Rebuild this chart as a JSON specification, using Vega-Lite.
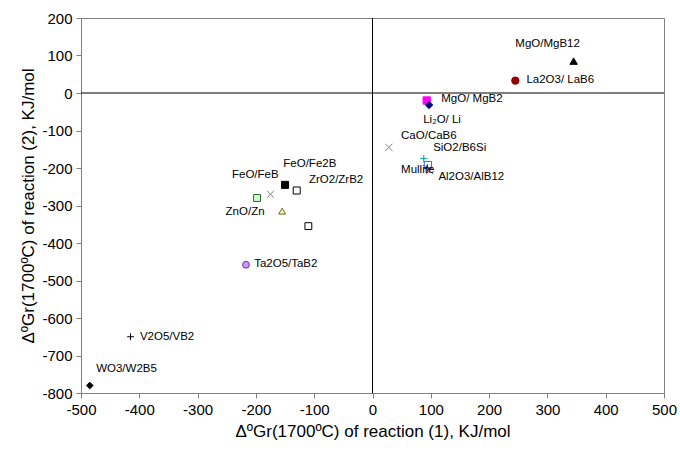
{
  "$schema": "https://vega.github.io/schema/vega-lite/v6.json",
  "width": 583,
  "height": 375,
  "autosize": "none",
  "padding": {"left": 81, "top": 18, "right": 16, "bottom": 59},
  "background": "white",
  "config": {
    "font": "Liberation Sans",
    "view": {"stroke": "#808080", "strokeWidth": 1},
    "axis": {"grid": false, "domainColor": "#808080", "tickColor": "#808080", "tickSize": 5, "labelFont": "Liberation Sans", "labelFontSize": 15, "labelColor": "#000", "titleFont": "Liberation Sans", "titleFontSize": 17, "titleFontWeight": "normal", "titleColor": "#000", "labelPadding": 4, "labelOverlap": false, "labelBound": false, "labelFlush": false, "labelExpr": "'' + datum.value"}
  },
  "datasets": {
    "points": [
      {"series": "MgO/MgB12", "dg1": 345, "dg2": 85},
      {"series": "La2O3/LaB6", "dg1": 245, "dg2": 33},
      {"series": "MgO/MgB2", "dg1": 93, "dg2": -20},
      {"series": "Li2O/Li", "dg1": 97, "dg2": -32},
      {"series": "CaO/CaB6", "dg1": 28, "dg2": -145},
      {"series": "SiO2/B6Si", "dg1": 88, "dg2": -175},
      {"series": "Al2O3/AlB12", "dg1": 95, "dg2": -192},
      {"series": "Mullite", "dg1": 94, "dg2": -200},
      {"series": "unlabelled A", "dg1": 98, "dg2": -207},
      {"series": "FeO/FeB", "dg1": -150, "dg2": -245},
      {"series": "ZrO2/ZrB2", "dg1": -130, "dg2": -260},
      {"series": "unlabelled B", "dg1": -175, "dg2": -270},
      {"series": "ZnO/Zn", "dg1": -198, "dg2": -280},
      {"series": "unlabelled C", "dg1": -155, "dg2": -315},
      {"series": "unlabelled D", "dg1": -110, "dg2": -355},
      {"series": "Ta2O5/TaB2", "dg1": -217, "dg2": -458},
      {"series": "V2O5/VB2", "dg1": -415, "dg2": -650},
      {"series": "WO3/W2B5", "dg1": -485, "dg2": -780}
    ],
    "labels": [
      {"label": "MgO/MgB12", "lx": 245, "ly": 130},
      {"label": "La2O3/ LaB6", "lx": 264, "ly": 34},
      {"label": "MgO/ MgB2", "lx": 118, "ly": -16},
      {"label": "Li₂O/ Li", "lx": 87, "ly": -72},
      {"label": "CaO/CaB6", "lx": 49, "ly": -114},
      {"label": "SiO2/B6Si", "lx": 104, "ly": -146},
      {"label": "Mullite", "lx": 49, "ly": -204},
      {"label": "Al2O3/AlB12", "lx": 113, "ly": -223},
      {"label": "FeO/FeB", "lx": -241, "ly": -218},
      {"label": "FeO/Fe2B", "lx": -153, "ly": -188},
      {"label": "ZrO2/ZrB2", "lx": -109, "ly": -231},
      {"label": "ZnO/Zn", "lx": -252, "ly": -316},
      {"label": "Ta2O5/TaB2", "lx": -203, "ly": -456},
      {"label": "V2O5/VB2", "lx": -399, "ly": -650},
      {"label": "WO3/W2B5", "lx": -474, "ly": -737}
    ],
    "zero": [{"v": 0}]
  },
  "layer": [
    {
      "data": {"name": "points"},
      "mark": {"type": "point", "strokeWidth": 1, "opacity": 1},
      "encoding": {
        "x": {"field": "dg1", "type": "quantitative", "scale": {"domain": [-500, 500], "nice": false, "zero": false}, "axis": {"values": [-500,-400,-300,-200,-100,0,100,200,300,400,500], "title": "ΔºGr(1700ºC) of reaction (1), KJ/mol", "titlePadding": 6}},
        "y": {"field": "dg2", "type": "quantitative", "scale": {"domain": [-800, 200], "nice": false, "zero": false}, "axis": {"values": [-800,-700,-600,-500,-400,-300,-200,-100,0,100,200], "tickCount": 11, "title": "ΔºGr(1700ºC) of reaction (2), KJ/mol", "titlePadding": 4}},
        "shape": {"field": "series", "type": "nominal", "legend": null, "scale": {
          "domain": ["MgO/MgB12","La2O3/LaB6","MgO/MgB2","Li2O/Li","CaO/CaB6","SiO2/B6Si","Al2O3/AlB12","Mullite","unlabelled A","FeO/FeB","ZrO2/ZrB2","unlabelled B","ZnO/Zn","unlabelled C","unlabelled D","Ta2O5/TaB2","V2O5/VB2","WO3/W2B5"],
          "range": ["triangle-up","circle","square","diamond","M-1,-1L1,1M-1,1L1,-1","M-1,0L1,0M0,-1L0,1","square","M-1,0L1,0M0,-1L0,1","M-1,-1L1,1M-1,1L1,-1","square","square","M-1,-1L1,1M-1,1L1,-1","square","triangle-up","square","circle","M-1,0L1,0M0,-1L0,1","diamond"]}},
        "fill": {"field": "series", "type": "nominal", "legend": null, "scale": {
          "domain": ["MgO/MgB12","La2O3/LaB6","MgO/MgB2","Li2O/Li","CaO/CaB6","SiO2/B6Si","Al2O3/AlB12","Mullite","unlabelled A","FeO/FeB","ZrO2/ZrB2","unlabelled B","ZnO/Zn","unlabelled C","unlabelled D","Ta2O5/TaB2","V2O5/VB2","WO3/W2B5"],
          "range": ["#000000","#8b0000","#ff00ff","#000080","transparent","transparent","#ffffff","transparent","transparent","#000000","#ffffff","transparent","#ccffcc","#ffff99","#ffffff","#cc99ff","transparent","#000000"]}},
        "stroke": {"field": "series", "type": "nominal", "legend": null, "scale": {
          "domain": ["MgO/MgB12","La2O3/LaB6","MgO/MgB2","Li2O/Li","CaO/CaB6","SiO2/B6Si","Al2O3/AlB12","Mullite","unlabelled A","FeO/FeB","ZrO2/ZrB2","unlabelled B","ZnO/Zn","unlabelled C","unlabelled D","Ta2O5/TaB2","V2O5/VB2","WO3/W2B5"],
          "range": ["#000000","#8b0000","#ff00ff","#000080","#808080","#009999","#3366ff","#000000","#cc33cc","#000000","#000000","#808080","#336633","#666633","#000000","#663399","#000000","#000000"]}},
        "size": {"field": "series", "type": "nominal", "legend": null, "scale": {
          "domain": ["MgO/MgB12","La2O3/LaB6","MgO/MgB2","Li2O/Li","CaO/CaB6","SiO2/B6Si","Al2O3/AlB12","Mullite","unlabelled A","FeO/FeB","ZrO2/ZrB2","unlabelled B","ZnO/Zn","unlabelled C","unlabelled D","Ta2O5/TaB2","V2O5/VB2","WO3/W2B5"],
          "range": [55,45,64,50,40,40,45,30,25,90,40,40,36,50,40,40,40,45]}}
      }
    },
    {
      "data": {"name": "zero"},
      "mark": {"type": "rule", "color": "#000", "strokeWidth": 1},
      "encoding": {"x": {"field": "v", "type": "quantitative"}}
    },
    {
      "data": {"name": "zero"},
      "mark": {"type": "rule", "color": "#000", "strokeWidth": 1},
      "encoding": {"y": {"field": "v", "type": "quantitative"}}
    },
    {
      "data": {"name": "labels"},
      "mark": {"type": "text", "align": "left", "baseline": "middle", "fontSize": 11.5, "color": "#000", "font": "Liberation Sans"},
      "encoding": {
        "x": {"field": "lx", "type": "quantitative"},
        "y": {"field": "ly", "type": "quantitative"},
        "text": {"field": "label"}
      }
    }
  ]
}
